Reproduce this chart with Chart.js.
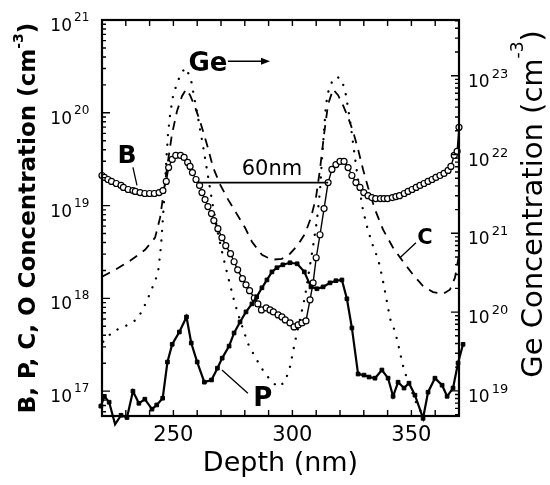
<!DOCTYPE html>
<html>
<head>
<meta charset="utf-8">
<script src="https://cdn.jsdelivr.net/npm/chart.js@4.4.1/dist/chart.umd.min.js"></script>
<style>
    html, body { margin: 0; padding: 0; background: #fff; }
    #wrap { width: 550px; height: 485px; position: relative; }
</style>
</head>
<body>
<div id="wrap"><canvas id="profile-chart"></canvas></div>
<script>
// B profile (open circles), cm^-3 on the left axis
const bDepth = [220, 221, 222.5, 224, 226, 228, 229, 231, 233, 234, 236, 238, 240, 242, 244, 245.6, 247, 248, 249.5, 251,
    253, 254.5, 256, 257, 258, 259.5, 261, 262, 263.3, 264.5, 266, 267, 268.7, 270.4, 272, 274, 275.5, 277, 279, 280.5,
    282, 284, 285.5, 287, 289, 290.6, 292, 294, 295.6, 297, 299, 300.7, 302.4, 304, 305.7, 307.4, 308.7, 310, 311.6, 313.3,
    315, 316.6, 318.3, 320, 321.7, 323.4, 325, 326.7, 328.4, 330, 331.8, 333.4, 335, 337, 338.5, 340, 342, 343.5, 345, 347,
    348.6, 350.3, 352, 353.6, 355.3, 357, 358.7, 360.3, 362, 363.7, 365.4, 366.6, 368, 369.2, 370];
const bConc = [2.11e19, 2.01e19, 1.91e19, 1.82e19, 1.73e19, 1.65e19, 1.57e19, 1.49e19, 1.45e19, 1.42e19, 1.38e19, 1.35e19, 1.35e19, 1.35e19, 1.38e19, 1.45e19, 1.82e19, 2.57e19, 3.14e19, 3.47e19,
    3.47e19, 3.30e19, 2.92e19, 2.64e19, 2.27e19, 1.91e19, 1.65e19, 1.38e19, 1.16e19, 9.75e18, 8.2e18, 6.89e18, 5.64e18, 4.51e18, 3.7e18, 3.03e18, 2.48e18, 2.03e18, 1.63e18, 1.4e18,
    1.21e18, 1.01e18, 8.72e17, 7.51e17, 7.89e17, 7.51e17, 7.15e17, 6.64e17, 6.31e17, 5.86e17, 5.44e17, 4.92e17, 5.18e17, 5.44e17, 5.71e17, 9.64e17, 1.47e18, 2.74e18, 4.85e18, 9.29e18,
    1.77e19, 2.45e19, 2.77e19, 2.99e19, 2.99e19, 2.57e19, 2.11e19, 1.77e19, 1.57e19, 1.38e19, 1.28e19, 1.22e19, 1.19e19, 1.19e19, 1.19e19, 1.19e19, 1.22e19, 1.25e19, 1.28e19, 1.35e19,
    1.42e19, 1.49e19, 1.57e19, 1.65e19, 1.73e19, 1.82e19, 1.91e19, 2.01e19, 2.11e19, 2.22e19, 2.39e19, 2.64e19, 3.47e19, 3.84e19, 6.97e19];

// P profile (filled squares)
const pDepth = [219.5, 221, 223, 225.5, 228, 230.5, 233, 235.5, 238, 241, 243, 245.5, 247.5, 249.5, 252.5, 255.5, 257.5, 260, 263, 266,
    268.5, 270.5, 273.4, 275.5, 278, 280.5, 283, 285, 287.2, 289.3, 291.4, 293.5, 296, 299, 302, 305, 307.8, 310.3, 312.9, 315.8,
    318.3, 320.8, 322.9, 325, 327.6, 330.1, 332.2, 334.7, 337.6, 340.2, 342.3, 344.4, 346.9, 349, 351.5, 354.9, 357, 359.9, 362.9, 365,
    367.5, 369.6, 371.7];
const pConc = [6.9e16, 8.8e16, 7.6e16, 4.4e16, 5.5e16, 5.2e16, 1.0e17, 7.4e16, 8.2e16, 6.4e16, 7.1e16, 8.4e16, 2.06e17, 3.2e17, 4.34e17, 6.31e17, 3.3e17, 2.06e17, 1.25e17, 1.32e17,
    1.77e17, 2.27e17, 3.06e17, 4.24e17, 5.57e17, 7.15e17, 8.72e17, 1.04e18, 1.30e18, 1.58e18, 1.93e18, 2.14e18, 2.30e18, 2.42e18, 2.36e18, 1.93e18, 1.33e18, 1.27e18, 1.33e18, 1.47e18,
    1.55e18, 1.58e18, 9.9e17, 4.8e17, 1.53e17, 1.49e17, 1.42e17, 1.38e17, 1.69e17, 1.38e17, 8.8e16, 1.25e17, 1.08e17, 1.22e17, 9.05e16, 5.1e16, 9.75e16, 1.38e17, 1.16e17, 8.8e16,
    1.08e17, 2.01e17, 3.2e17];

// C profile (dashed)
const cDepth = [220, 225.5, 231.8, 238.1, 242.3, 244.4, 246.1, 247.7, 249.4, 251.5, 253.6, 255.3, 257, 259.1, 261.2, 264.1, 266.7, 269.6, 273, 276.3,
    280.1, 283, 287.2, 291.4, 295.6, 299, 302.4, 305.3, 307.8, 309.9, 311.6, 313.3, 315, 317.1, 319.2, 321.3, 323.4, 325.5, 327.6, 329.7,
    331.8, 334.7, 338.1, 342.3, 346.5, 350.7, 354.9, 359.1, 363.3, 366.2, 368.3, 370];
const cConc = [1.71e18, 2.03e18, 2.54e18, 3.34e18, 4.51e18, 7.41e18, 1.49e19, 2.99e19, 5.86e19, 1.04e20, 1.51e20, 1.79e20, 1.55e20, 1.15e20, 8.1e19, 4.56e19, 2.57e19, 1.69e19, 1.16e19, 8.4e18,
    5.78e18, 4.08e18, 2.95e18, 2.61e18, 2.67e18, 3.03e18, 3.79e18, 4.98e18, 7.41e18, 1.22e19, 2.45e19, 5.86e19, 1.24e20, 1.79e20, 1.55e20, 1.20e20, 8.9e19, 6.3e19, 4.03e19, 2.45e19,
    1.57e19, 9.06e18, 5.5e18, 3.52e18, 2.48e18, 1.80e18, 1.36e18, 1.17e18, 1.12e18, 1.24e18, 1.67e18, 2.95e18];

// Ge profile (dotted), right axis
const geDepth = [220.5, 224.6, 229.7, 234.7, 237.2, 239.3, 241.4, 243.5, 244.8, 246.1, 246.9, 247.7, 248.6, 249.8, 251.5, 253.6, 255.3, 257.4, 258.7, 260.3,
    262.4, 264.5, 266.6, 268.7, 270.8, 272.9, 275, 277.1, 279.2, 281.3, 284.3, 287.2, 290.6, 293.9, 296.9, 299, 301.1, 303.2, 305.3, 307,
    308.7, 310.3, 311.6, 312.4, 313.3, 314.1, 315.4, 317.1, 318.7, 320.8, 322.5, 324.2, 325.9, 327.6, 329.7, 331.8, 333.9, 336, 337.2, 338.5,
    339.7, 341, 343.1, 344.4, 345.6, 346.9, 349.4, 351.9, 354.5, 357.8];
const geConc = [4.2e19, 5.7e19, 6.6e19, 8.1e19, 1.08e20, 1.5e20, 2.13e20, 3.1e20, 6.9e20, 2.6e21, 7.3e21, 1.76e22, 3.2e22, 5.4e22, 8.1e22, 1.12e23, 1.26e23, 8.9e22, 5.4e22, 3.0e22,
    1.31e22, 5.4e21, 2.24e21, 1.01e21, 5.2e20, 2.86e20, 1.59e20, 9.6e19, 6.2e19, 4.0e19, 2.7e19, 1.91e19, 1.38e19, 1.12e19, 1.3e19, 2.03e19, 4.2e19, 8.1e19, 1.59e20, 3.3e20,
    6.9e20, 1.45e21, 3.5e21, 8.5e21, 2.0e22, 4.3e22, 7.0e22, 8.9e22, 9.7e22, 8.9e22, 5.7e22, 2.74e22, 1.13e22, 4.7e21, 1.94e21, 1.08e21, 6.9e20, 4.7e20, 3.3e20, 2.13e20,
    1.37e20, 8.3e19, 5.7e19, 4.0e19, 2.7e19, 1.85e19, 1.12e19, 7.2e18, 5.1e18, 3.47e18];

// axes
const depthLabels = [250, 300, 350];
const leftExps = [17, 18, 19, 20, 21];
const rightExps = [19, 20, 21, 22, 23];
const leftMin = 5.4e16, leftMax = 1e21;
const rightMin = 4.8e18, rightMax = 5.1e23;

// text notes placed in data coordinates (left axis)
const notes = [
    { text: 'Ge', depth: 264.5, conc: 3.3e20, size: 26, bold: true },
    { text: 'B', depth: 230.5, conc: 3.4e19, size: 25, bold: true },
    { text: 'P', depth: 287.6, conc: 8.2e16, size: 26, bold: true },
    { text: 'C', depth: 355.7, conc: 4.4e18, size: 21, bold: true },
    { text: '60nm', depth: 291.4, conc: 2.45e19, size: 21, bold: false }
];
const leaders = [
    [[233, 2.58e19], [234.7, 1.65e19]],
    [[270.4, 1.69e17], [281.3, 9.5e16]],
    [[351.9, 3.98e18], [345.2, 2.74e18]]
];
const spacing = { from: 260.3, to: 315, conc: 1.77e19 };
const geArrow = { from: 272.9, to: 290.6, conc: 3.6e20 };

const FONT = "'DejaVu Sans', 'Liberation Sans', sans-serif";

function toPoints(xs, ys) {
    return xs.map((x, i) => ({ x: x, y: ys[i] }));
}

// tick positions 1..9 x 10^n inside the axis range
function logTicks(min, max) {
    const ticks = [];
    for (let e = Math.floor(Math.log10(min)); e <= Math.ceil(Math.log10(max)); e++) {
        for (let k = 1; k <= 9; k++) {
            const v = k * Math.pow(10, e);
            if (v >= min && v <= max * 1.0001) ticks.push({ value: v, major: k === 1 });
        }
    }
    return ticks;
}

function drawRotated(ctx, cx, cy, parts) {
    ctx.save();
    ctx.translate(cx, cy);
    ctx.rotate(-Math.PI / 2);
    ctx.textAlign = 'left';
    ctx.textBaseline = 'alphabetic';
    let total = 0;
    parts.forEach(p => { ctx.font = p.font; p.w = ctx.measureText(p.text).width; total += p.w; });
    let u = -total / 2;
    parts.forEach(p => {
        ctx.font = p.font;
        ctx.fillText(p.text, u, -(p.rise || 0));
        u += p.w;
    });
    ctx.restore();
}

const framePlugin = {
    id: 'frame',
    afterDraw(chart) {
        const { ctx, chartArea: area, scales } = chart;
        const xs = scales.x, yl = scales.y, yr = scales.y2;
        ctx.save();
        ctx.strokeStyle = '#000';
        ctx.fillStyle = '#000';

        // inward tick marks
        ctx.lineWidth = 1.4;
        ctx.beginPath();
        yl.ticks.forEach(t => {
            const y = yl.getPixelForValue(t.value);
            ctx.moveTo(area.left, y);
            ctx.lineTo(area.left + (t.major ? 8 : 4), y);
        });
        yr.ticks.forEach(t => {
            const y = yr.getPixelForValue(t.value);
            ctx.moveTo(area.right, y);
            ctx.lineTo(area.right - (t.major ? 8 : 4), y);
        });
        xs.ticks.forEach(t => {
            const x = xs.getPixelForValue(t.value);
            ctx.moveTo(x, area.bottom);
            ctx.lineTo(x, area.bottom - 6);
            ctx.moveTo(x, area.top);
            ctx.lineTo(x, area.top + 6);
        });
        ctx.stroke();

        ctx.lineWidth = 2.2;
        ctx.strokeRect(area.left, area.top, area.right - area.left, area.bottom - area.top);

        // power-of-ten tick labels
        ctx.textBaseline = 'alphabetic';
        leftExps.forEach(e => {
            const y = yl.getPixelForValue(Math.pow(10, e));
            ctx.font = '17px ' + FONT;
            ctx.textAlign = 'right';
            ctx.fillText('10', area.left - 30, y + 11);
            ctx.font = '12px ' + FONT;
            ctx.textAlign = 'left';
            ctx.fillText(String(e), area.left - 28, y + 1);
        });
        rightExps.forEach(e => {
            const y = yr.getPixelForValue(Math.pow(10, e));
            ctx.font = '17px ' + FONT;
            ctx.textAlign = 'left';
            ctx.fillText('10', area.right + 9, y + 11);
            const w = ctx.measureText('10').width;
            ctx.font = '13px ' + FONT;
            ctx.fillText(String(e), area.right + 11 + w, y + 2);
        });

        // axis titles
        drawRotated(ctx, 35, (area.top + area.bottom) / 2, [
            { text: 'B, P, C, O Concentration (cm', font: 'bold 23px ' + FONT },
            { text: '-3', font: 'bold 14px ' + FONT, rise: 12 },
            { text: ')', font: 'bold 23px ' + FONT }
        ]);
        drawRotated(ctx, 542, 204, [
            { text: 'Ge Concentration (cm', font: '29px ' + FONT },
            { text: '-3', font: '17px ' + FONT, rise: 19 },
            { text: ')', font: '29px ' + FONT }
        ]);

        // notes, leaders, 60nm span and Ge arrow
        ctx.textAlign = 'center';
        ctx.textBaseline = 'middle';
        notes.forEach(n => {
            ctx.font = (n.bold ? 'bold ' : '') + n.size + 'px ' + FONT;
            ctx.fillText(n.text, xs.getPixelForValue(n.depth), yl.getPixelForValue(n.conc));
        });
        ctx.lineWidth = 1.3;
        ctx.beginPath();
        leaders.forEach(l => {
            ctx.moveTo(xs.getPixelForValue(l[0][0]), yl.getPixelForValue(l[0][1]));
            ctx.lineTo(xs.getPixelForValue(l[1][0]), yl.getPixelForValue(l[1][1]));
        });
        ctx.stroke();

        ctx.lineWidth = 1.8;
        const sy = yl.getPixelForValue(spacing.conc);
        ctx.beginPath();
        ctx.moveTo(xs.getPixelForValue(spacing.from), sy);
        ctx.lineTo(xs.getPixelForValue(spacing.to), sy);
        ctx.stroke();

        const ay = yl.getPixelForValue(geArrow.conc);
        const ax1 = xs.getPixelForValue(geArrow.from), ax2 = xs.getPixelForValue(geArrow.to);
        ctx.lineWidth = 1.5;
        ctx.beginPath();
        ctx.moveTo(ax1, ay);
        ctx.lineTo(ax2 - 6, ay);
        ctx.stroke();
        ctx.beginPath();
        ctx.moveTo(ax2, ay);
        ctx.lineTo(ax2 - 9, ay - 3.5);
        ctx.lineTo(ax2 - 9, ay + 3.5);
        ctx.closePath();
        ctx.fill();

        ctx.restore();
    }
};

Chart.defaults.font.family = FONT;
Chart.defaults.color = '#000';

const ctx = document.getElementById('profile-chart').getContext('2d');
new Chart(ctx, {
    type: 'line',
    data: {
        datasets: [
            {
                label: 'P',
                data: toPoints(pDepth, pConc),
                yAxisID: 'y',
                borderColor: '#000',
                borderWidth: 2.2,
                pointStyle: 'rect',
                pointRadius: 2.6,
                pointBackgroundColor: '#000',
                pointBorderColor: '#000',
                pointBorderWidth: 1,
                tension: 0,
                clip: false
            },
            {
                label: 'B',
                data: toPoints(bDepth, bConc),
                yAxisID: 'y',
                borderColor: '#000',
                borderWidth: 1.4,
                pointStyle: 'circle',
                pointRadius: 3,
                pointBackgroundColor: '#fff',
                pointBorderColor: '#000',
                pointBorderWidth: 1.2,
                tension: 0,
                clip: false
            },
            {
                label: 'C',
                data: toPoints(cDepth, cConc),
                yAxisID: 'y',
                borderColor: '#000',
                borderWidth: 1.8,
                borderDash: [9, 7],
                pointRadius: 0,
                tension: 0
            },
            {
                label: 'Ge',
                data: toPoints(geDepth, geConc),
                yAxisID: 'y2',
                borderColor: '#000',
                borderWidth: 2.3,
                borderDash: [0.1, 9.5],
                borderCapStyle: 'round',
                pointRadius: 0,
                tension: 0
            }
        ]
    },
    options: {
        responsive: true,
        maintainAspectRatio: false,
        animation: false,
        events: [],
        layout: { padding: { top: 20, left: 0, right: 0, bottom: 0 } },
        plugins: { legend: { display: false }, tooltip: { enabled: false } },
        scales: {
            x: {
                type: 'linear',
                min: 220,
                max: 370,
                afterFit: s => { s.height = 69; },
                grid: { display: false, drawTicks: false },
                border: { display: false },
                ticks: {
                    stepSize: 10,
                    autoSkip: false,
                    maxRotation: 0,
                    padding: 7,
                    font: { size: 21 },
                    callback: v => depthLabels.includes(v) ? String(v) : ''
                },
                title: { display: true, text: 'Depth (nm)', font: { size: 27 }, padding: { top: 0, bottom: 5 } }
            },
            y: {
                type: 'logarithmic',
                position: 'left',
                min: leftMin,
                max: leftMax,
                afterBuildTicks: s => { s.ticks = logTicks(leftMin, leftMax); },
                afterFit: s => { s.width = 102; },
                grid: { display: false, drawTicks: false },
                border: { display: false },
                ticks: { display: false }
            },
            y2: {
                type: 'logarithmic',
                position: 'right',
                min: rightMin,
                max: rightMax,
                afterBuildTicks: s => { s.ticks = logTicks(rightMin, rightMax); },
                afterFit: s => { s.width = 91; },
                grid: { display: false, drawTicks: false },
                border: { display: false },
                ticks: { display: false }
            }
        }
    },
    plugins: [framePlugin]
});
</script>
</body>
</html>
